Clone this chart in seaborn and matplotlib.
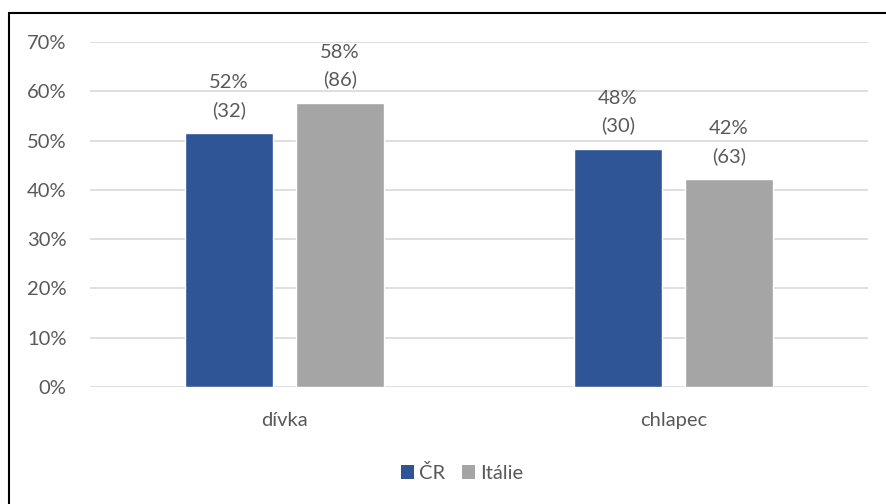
import matplotlib
matplotlib.use("Agg")
import matplotlib.pyplot as plt
from matplotlib.patches import Rectangle, Patch
from matplotlib.ticker import PercentFormatter
import pandas as pd
import seaborn as sns

# Respondent counts by gender for each country
categories = ["dívka", "chlapec"]
series = ["ČR", "Itálie"]
counts_cr = [32, 30]
counts_it = [86, 63]
colors = ["#2F5597", "#A5A5A5"]
yticks = [0, 0.1, 0.2, 0.3, 0.4, 0.5, 0.6, 0.7]

def shares(counts):
    total = sum(counts)
    return [c / total for c in counts]

rows = []
for name, counts in zip(series, [counts_cr, counts_it]):
    for cat, cnt, share in zip(categories, counts, shares(counts)):
        rows.append({"kategorie": cat, "země": name, "počet": cnt, "podíl": share})
df = pd.DataFrame(rows)

sns.set_theme(style="white")
plt.rcParams["font.family"] = ["Lato", "DejaVu Sans"]
text_color = "#595959"
fs = 14.5

fig = plt.figure(figsize=(8.86, 5.04), dpi=100)
ax = fig.add_axes([90 / 886, 1 - 387 / 504, 778 / 886, 345 / 504])

sns.barplot(data=df, x="kategorie", y="podíl", hue="země", order=categories,
            hue_order=series, palette=colors, width=0.571, gap=0.216,
            saturation=1, ax=ax, legend=False, errorbar=None)

ax.set_xlim(-0.5, 1.5)
ax.set_ylim(0, 0.7)
ax.set_yticks(yticks)
ax.yaxis.set_major_formatter(PercentFormatter(1.0, decimals=0))
ax.grid(axis="y", color="#D9D9D9", linewidth=1.2)
ax.set_axisbelow(True)
for s in ax.spines.values():
    s.set_visible(False)
ax.set_xlabel("")
ax.set_ylabel("")
ax.tick_params(axis="both", length=0, labelsize=fs, colors=text_color)
ax.tick_params(axis="x", pad=18)
ax.tick_params(axis="y", pad=17)

# Two-line value labels above each bar
for container, name in zip(ax.containers, series):
    sub = df[df["země"] == name].set_index("kategorie").loc[categories]
    labels = [f"{round(p * 100):.0f}%\n({n})" for p, n in zip(sub["podíl"], sub["počet"])]
    ax.bar_label(container, labels=labels, padding=10, fontsize=fs,
                 color=text_color, linespacing=1.65)

handles = [Patch(facecolor=c, edgecolor="none") for c in colors]
fig.legend(handles, series, loc="center", bbox_to_anchor=(462 / 886, 1 - 473 / 504),
           ncol=2, frameon=False, fontsize=fs, handlelength=0.65, handleheight=0.65,
           handletextpad=0.25, columnspacing=0.8, labelcolor=text_color)

fig.patches.append(Rectangle((9 / 886, -0.05), 1.1, 1.05 - 13 / 504,
                             transform=fig.transFigure, fill=False,
                             edgecolor="black", linewidth=1.5))

fig.savefig("out.png", dpi=100)
